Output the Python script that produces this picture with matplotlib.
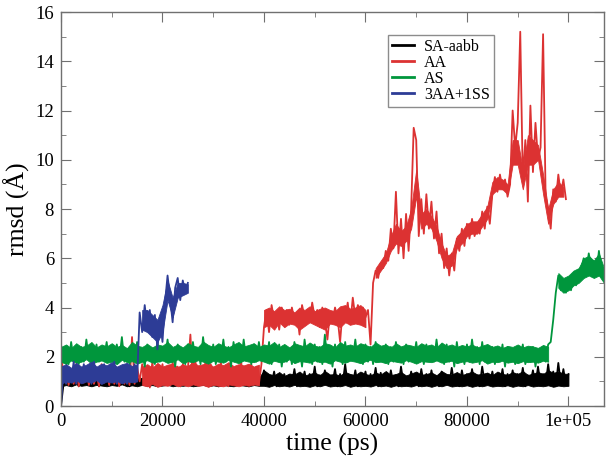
import matplotlib
matplotlib.use('Agg')
import matplotlib.pyplot as plt
from matplotlib.ticker import MultipleLocator
import numpy as np

plt.rcParams['font.family'] = ['Liberation Serif', 'DejaVu Serif']

# rmsd values (angstrom), one sample every 500 ps starting at 0 ps
step = 500

sa_aabb = [
    0.0, 0.9, 1.1, 0.85, 1.2, 0.9, 1.05, 0.8, 1.15, 0.9,
    1.0, 0.85, 1.2, 0.9, 1.1, 0.8, 1.15, 0.95, 1.05, 0.85,
    1.1, 0.9, 1.2, 0.85, 1.0, 0.9, 1.15, 0.8, 1.05, 0.95,
    1.2, 0.85, 1.1, 0.9, 1.0, 0.8, 1.15, 0.9, 1.05, 0.85,
    1.1, 0.9, 1.2, 0.85, 1.0, 0.9, 1.1, 0.8, 1.15, 1.3,
    0.9, 1.4, 1.0, 1.2, 0.85, 1.1, 0.9, 1.0, 0.85, 1.15,
    0.9, 1.1, 0.8, 1.05, 0.9, 1.2, 0.85, 1.0, 0.9, 1.1,
    0.85, 1.15, 0.9, 1.05, 0.8, 1.1, 0.9, 1.2, 0.85, 1.0,
    1.45, 0.85, 1.25, 0.9, 1.4, 0.8, 1.2, 0.95, 1.3, 0.85,
    1.25, 0.9, 1.5, 0.8, 1.2, 0.95, 1.4, 0.85, 1.3, 0.9,
    1.6, 0.8, 1.25, 0.9, 1.45, 0.85, 1.2, 0.95, 1.5, 0.8,
    1.3, 0.9, 1.7, 0.85, 1.25, 0.9, 1.45, 0.8, 1.2, 0.95,
    1.4, 0.85, 1.3, 0.9, 1.55, 0.8, 1.35, 0.95, 1.2, 0.85,
    1.45, 0.9, 1.25, 0.8, 1.6, 0.9, 1.2, 0.85, 1.4, 0.95,
    1.3, 0.8, 1.5, 0.9, 1.3, 0.85, 1.45, 0.9, 1.2, 0.8,
    1.4, 0.95, 1.25, 0.85, 1.55, 0.9, 1.3, 0.8, 1.45, 0.9,
    1.3, 0.85, 1.5, 0.9, 1.25, 0.8, 1.6, 0.95, 1.3, 0.85,
    1.4, 0.9, 1.2, 0.85, 1.5, 0.8, 1.3, 0.9, 1.45, 0.85,
    1.3, 0.9, 1.55, 0.8, 1.25, 0.95, 1.45, 0.85, 1.6, 0.9,
    1.3, 0.85, 1.7, 0.9, 1.4, 0.8, 1.75, 0.9, 1.5, 0.85,
    1.3,
]

aa = [
    2.4, 1.0, 1.6, 0.85, 1.4, 0.9, 1.7, 0.8, 1.3, 0.95,
    1.5, 0.85, 1.6, 0.9, 1.3, 0.8, 1.7, 0.95, 1.4, 0.85,
    1.6, 0.9, 1.3, 0.8, 1.5, 0.9, 1.7, 0.85, 2.8, 0.9,
    1.6, 1.0, 1.7, 0.85, 1.5, 0.75, 1.8, 0.9, 1.6, 0.8,
    1.7, 0.95, 1.5, 0.85, 1.8, 0.9, 1.6, 0.8, 1.7, 1.0,
    1.5, 2.9, 1.0, 1.8, 0.85, 1.6, 0.9, 1.9, 0.8, 1.7,
    1.0, 1.6, 0.85, 1.8, 0.9, 1.5, 0.8, 1.7, 0.95, 1.6,
    0.85, 1.8, 0.9, 1.5, 1.0, 1.7, 0.85, 1.6, 0.9, 1.7,
    3.2, 3.9, 3.0, 4.1, 3.5, 3.8, 3.1, 4.0, 3.6, 3.9,
    3.3, 4.0, 3.5, 3.8, 2.9, 4.1, 3.6, 3.9, 3.4, 4.2,
    3.6, 3.9, 3.2, 4.0, 3.5, 2.7, 3.8, 3.4, 4.0, 3.6,
    2.6, 3.9, 3.5, 4.2, 3.3, 4.4, 3.6, 4.1, 3.8, 4.0,
    3.6, 3.9, 2.5, 5.0, 5.5, 5.2, 5.8, 5.6, 6.3, 5.9,
    7.2, 6.4, 8.7, 6.2, 7.6, 6.0, 7.8, 6.3, 8.0, 11.3,
    10.8, 6.9, 8.4, 7.0, 8.6, 7.2, 8.3, 6.8, 7.9, 6.2,
    7.0, 5.6, 6.4, 5.3, 6.2, 5.5, 6.8, 6.3, 7.2, 6.5,
    7.4, 6.8, 7.6, 6.9, 7.3, 7.0, 7.9, 7.2, 8.1, 7.4,
    8.6, 9.3, 8.7, 9.4, 8.8, 9.2, 8.5, 9.0, 12.0, 10.5,
    11.5, 15.2, 9.2, 10.8, 8.3, 12.2, 9.5, 11.5, 10.0, 10.5,
    15.1, 8.5, 8.0, 7.2, 8.8, 8.3, 9.4, 8.6, 9.2, 8.4,
]

as_ = [
    2.5, 1.8, 2.3, 1.7, 2.6, 1.9, 2.2, 1.7, 2.4, 1.8,
    2.7, 1.9, 2.2, 1.7, 2.5, 1.8, 2.3, 2.0, 2.6, 1.8,
    2.2, 1.7, 2.5, 1.9, 2.8, 1.8, 2.3, 1.7, 2.4, 1.9,
    2.6, 1.8, 2.2, 1.6, 2.5, 1.9, 2.3, 1.7, 2.6, 1.8,
    2.4, 1.9, 2.7, 1.8, 2.3, 1.6, 2.5, 1.9, 2.2, 1.7,
    2.5, 1.8, 2.6, 1.9, 2.3, 1.7, 2.8, 1.9, 2.4, 1.8,
    2.5, 1.7, 2.3, 1.9, 2.7, 1.8, 2.4, 1.6, 2.6, 1.9,
    2.3, 1.8, 2.7, 1.9, 2.4, 1.7, 2.5, 1.8, 2.6, 1.9,
    2.4, 1.8, 2.6, 1.7, 2.3, 1.9, 2.5, 1.6, 2.4, 1.8,
    2.3, 1.7, 2.6, 1.8, 2.4, 1.6, 2.7, 1.9, 2.3, 1.7,
    2.5, 1.8, 2.4, 1.7, 2.9, 1.8, 2.3, 1.6, 2.5, 1.9,
    2.2, 1.7, 2.6, 1.8, 2.4, 1.9, 2.7, 1.8, 2.3, 1.7,
    2.5, 1.8, 2.4, 1.7, 2.6, 1.9, 2.3, 1.8, 2.5, 1.7,
    2.4, 1.8, 2.6, 1.9, 2.3, 1.7, 2.5, 1.8, 2.4, 1.9,
    2.6, 1.8, 2.3, 1.7, 2.5, 1.9, 2.4, 1.8, 2.7, 1.9,
    2.3, 1.7, 2.5, 1.8, 2.4, 1.6, 2.6, 1.9, 2.3, 1.7,
    2.5, 1.8, 2.7, 1.9, 2.4, 1.7, 2.6, 1.8, 2.3, 1.9,
    2.4, 1.7, 2.3, 1.8, 2.5, 1.6, 2.4, 1.8, 2.2, 1.7,
    2.3, 1.8, 2.5, 1.7, 2.2, 1.8, 2.4, 1.6, 2.3, 1.8,
    2.4, 1.8, 2.5, 2.6, 3.5, 4.6, 5.3, 4.7, 5.1, 4.6,
    5.2, 4.7, 5.3, 4.9, 5.5, 5.6, 6.0, 5.4, 6.2, 5.6,
    5.9, 5.3, 6.3, 5.4, 5.1,
]

aa3_ss1 = [
    0.0, 1.6, 0.9, 1.5, 1.0, 1.8, 0.9, 1.4, 1.1, 1.7,
    1.0, 1.5, 0.9, 1.8, 1.1, 1.4, 0.9, 1.7, 1.0, 1.5,
    1.1, 1.8, 0.9, 1.4, 1.0, 1.6, 0.9, 1.5, 1.1, 1.7,
    1.0, 3.8, 3.0, 4.1, 3.2, 3.9, 2.8, 3.7, 2.3, 3.5,
    2.6, 4.2, 5.3, 4.4, 3.4, 4.8, 5.2, 4.3, 5.1, 4.6,
    5.0,
]

# low / high extent of the dense fluctuation, one pair every 1000 ps
env_step = 1000

sa_aabb_lo = [
    0.8, 0.85, 0.8, 0.88, 0.82, 0.85, 0.8, 0.86, 0.83, 0.8,
    0.85, 0.82, 0.88, 0.8, 0.84, 0.8, 0.86, 0.82, 0.85, 0.8,
    0.83, 0.86, 0.8, 0.84, 0.82, 0.85, 0.8, 0.83, 0.86, 0.8,
    0.84, 0.8, 0.85, 0.82, 0.8, 0.86, 0.83, 0.8, 0.85, 0.82,
    0.82, 0.78, 0.85, 0.8, 0.83, 0.79, 0.86, 0.8, 0.82, 0.78,
    0.84, 0.8, 0.86, 0.79, 0.82, 0.8, 0.85, 0.78, 0.83, 0.8,
    0.82, 0.79, 0.85, 0.8, 0.83, 0.78, 0.84, 0.8, 0.82, 0.79,
    0.85, 0.8, 0.83, 0.78, 0.84, 0.8, 0.86, 0.79, 0.82, 0.8,
    0.84, 0.78, 0.83, 0.8, 0.85, 0.79, 0.82, 0.8, 0.84, 0.78,
    0.83, 0.8, 0.85, 0.79, 0.82, 0.8, 0.84, 0.78, 0.83, 0.8,
    0.82,
]
sa_aabb_hi = [
    1.1, 1.15, 1.1, 1.12, 1.18, 1.1, 1.15, 1.12, 1.1, 1.16,
    1.12, 1.1, 1.15, 1.18, 1.1, 1.12, 1.15, 1.1, 1.13, 1.16,
    1.1, 1.14, 1.12, 1.1, 1.2, 1.42, 1.38, 1.15, 1.12, 1.1,
    1.15, 1.12, 1.1, 1.16, 1.12, 1.1, 1.14, 1.12, 1.1, 1.15,
    1.45, 1.3, 1.25, 1.38, 1.22, 1.32, 1.28, 1.4, 1.24, 1.3,
    1.36, 1.25, 1.42, 1.28, 1.3, 1.24, 1.38, 1.3, 1.26, 1.4,
    1.3, 1.25, 1.36, 1.28, 1.42, 1.26, 1.3, 1.38, 1.24, 1.32,
    1.4, 1.27, 1.3, 1.36, 1.25, 1.42, 1.3, 1.28, 1.38, 1.26,
    1.32, 1.4, 1.28, 1.3, 1.36, 1.25, 1.4, 1.3, 1.27, 1.38,
    1.3, 1.42, 1.26, 1.32, 1.38, 1.3, 1.45, 1.35, 1.4, 1.32,
    1.3,
]

aa_lo_a = [0.85, 0.8, 0.9, 0.78, 0.85, 0.82, 0.9, 0.8, 0.86, 0.8, 0.88, 0.82,
           0.85, 0.78, 0.86, 0.82, 0.8, 0.88, 0.84, 0.8, 0.86, 0.82, 0.88, 0.84]
aa_hi_a = [1.6, 1.7, 1.55, 1.75, 1.6, 1.68, 1.72, 1.58, 1.7, 1.62, 1.8, 1.65,
           1.7, 1.75, 1.6, 1.72, 1.66, 1.78, 1.62, 1.7, 1.65, 1.72, 1.6, 1.68]
aa_lo_b = [3.2, 3.3, 3.1, 3.4, 3.2, 3.35, 3.3, 3.1, 3.25, 3.4, 3.3,
           3.2, 3.1, 3.35, 3.3, 3.2, 3.4, 3.3, 3.35, 3.3, 3.2]
aa_hi_b = [3.9, 4.0, 3.85, 4.05, 3.9, 3.95, 3.8, 4.0, 3.9, 4.05, 3.85,
           3.95, 4.0, 3.9, 3.85, 4.05, 4.1, 3.95, 4.0, 4.1, 3.9]
aa_lo_c = [5.2, 5.5, 5.8, 6.3, 6.6, 6.5, 6.7, 7.2, 8.5, 7.2,
           7.4, 7.2, 6.7, 6.0, 5.6, 5.7, 6.4, 6.6, 6.9, 7.0,
           7.0, 7.3, 7.6, 8.6, 8.8, 8.8, 8.6, 9.8, 9.8, 8.8,
           9.8, 9.8, 10.0, 8.6, 7.4, 8.2, 8.5, 8.5]
aa_hi_c = [5.6, 5.9, 6.2, 6.9, 7.4, 7.1, 7.3, 8.0, 9.6, 7.8,
           8.0, 7.7, 7.3, 6.6, 6.1, 6.2, 6.9, 7.1, 7.4, 7.5,
           7.5, 7.8, 8.1, 9.1, 9.3, 9.2, 9.0, 10.8, 10.8, 9.6,
           11.0, 10.8, 10.6, 9.4, 8.0, 8.8, 9.1, 8.9]

as_lo_a = [
    1.8, 1.7, 1.85, 1.75, 1.8, 1.9, 1.72, 1.8, 1.85, 1.75,
    1.8, 1.7, 1.88, 1.78, 1.82, 1.72, 1.8, 1.86, 1.76, 1.8,
    1.85, 1.75, 1.8, 1.9, 1.74, 1.82, 1.78, 1.86, 1.8, 1.72,
    1.84, 1.8, 1.76, 1.88, 1.8, 1.74, 1.85, 1.8, 1.78, 1.86,
    1.8, 1.72, 1.84, 1.78, 1.8, 1.9, 1.74, 1.82, 1.8, 1.76,
    1.85, 1.78, 1.8, 1.72, 1.86, 1.8, 1.76, 1.84, 1.8, 1.74,
    1.82, 1.88, 1.78, 1.8, 1.74, 1.84, 1.8, 1.76, 1.86, 1.8,
    1.72, 1.82, 1.8, 1.78, 1.85, 1.76, 1.8, 1.84, 1.74, 1.8,
    1.82, 1.76, 1.8, 1.86, 1.72, 1.8, 1.78, 1.84, 1.76, 1.8,
    1.74, 1.82, 1.78, 1.8, 1.76, 1.84, 1.8,
]
as_hi_a = [
    2.4, 2.5, 2.35, 2.55, 2.4, 2.45, 2.6, 2.38, 2.5, 2.42,
    2.55, 2.4, 2.48, 2.35, 2.6, 2.45, 2.4, 2.52, 2.38, 2.5,
    2.45, 2.6, 2.4, 2.5, 2.38, 2.55, 2.45, 2.4, 2.62, 2.48,
    2.4, 2.55, 2.45, 2.38, 2.5, 2.6, 2.42, 2.48, 2.55, 2.4,
    2.5, 2.45, 2.6, 2.4, 2.52, 2.38, 2.55, 2.48, 2.42, 2.58,
    2.45, 2.4, 2.55, 2.5, 2.38, 2.6, 2.45, 2.5, 2.42, 2.55,
    2.48, 2.4, 2.58, 2.45, 2.5, 2.38, 2.55, 2.42, 2.5, 2.46,
    2.4, 2.55, 2.45, 2.5, 2.38, 2.58, 2.44, 2.5, 2.4, 2.48,
    2.42, 2.5, 2.38, 2.45, 2.52, 2.4, 2.46, 2.36, 2.44, 2.4,
    2.5, 2.38, 2.45, 2.42, 2.36, 2.48, 2.4,
]
as_lo_b = [4.8, 4.6, 4.7, 4.9, 5.0, 5.2, 5.3, 5.2, 5.3, 5.0]
as_hi_b = [5.4, 5.2, 5.3, 5.5, 5.6, 6.0, 6.1, 5.9, 6.2, 5.6]

aa3_ss1_lo = [0.9, 1.0, 0.95, 1.05, 0.92, 1.0, 0.96, 1.05,
              0.9, 1.0, 0.95, 1.02, 0.92, 1.0, 0.96, 1.0]
aa3_ss1_hi = [1.6, 1.7, 1.55, 1.75, 1.6, 1.68, 1.8, 1.6,
              1.72, 1.65, 1.78, 1.6, 1.7, 1.75, 1.62, 1.7]
aa3_ss1_lo_b = [3.1, 3.0, 2.8, 2.6, 3.0, 4.3, 3.6, 4.4, 4.5, 4.6]
aa3_ss1_hi_b = [3.9, 3.9, 3.7, 3.5, 4.1, 5.1, 4.4, 5.0, 5.0, 4.95]

# (start ps, low list, high list)
sa_aabb_env = [(0, sa_aabb_lo, sa_aabb_hi)]
aa_env = [(16000, aa_lo_a, aa_hi_a), (40000, aa_lo_b, aa_hi_b),
          (62000, aa_lo_c, aa_hi_c)]
as_env = [(0, as_lo_a, as_hi_a), (98000, as_lo_b, as_hi_b)]
aa3_ss1_env = [(0, aa3_ss1_lo, aa3_ss1_hi), (16000, aa3_ss1_lo_b, aa3_ss1_hi_b)]

series = [
    ('SA-aabb', sa_aabb, sa_aabb_env, '#000000'),
    ('AA', aa, aa_env, '#dc3232'),
    ('AS', as_, as_env, '#00963c'),
    ('3AA+1SS', aa3_ss1, aa3_ss1_env, '#2d3c96'),
]

fig = plt.figure(figsize=(6.08, 4.63), dpi=100)
ax = fig.add_axes([0.1003, 0.1231, 0.8931, 0.8509])

z = 2
for name, vals, env, col in series:
    t = np.arange(len(vals)) * step
    for t0, lo, hi in env:
        te = t0 + np.arange(len(lo)) * env_step
        ax.fill_between(te, lo, hi, color=col, lw=0.6, zorder=z)
    ax.plot(t, vals, color=col, lw=1.3, label=name, zorder=z + 0.5)
    z += 1

ax.set_xlim(0, 107000)
ax.set_ylim(0, 16)
ax.set_xticks([0, 20000, 40000, 60000, 80000, 100000],
              ['0', '20000', '40000', '60000', '80000', '1e+05'])
ax.set_yticks(range(0, 17, 2))
ax.xaxis.set_minor_locator(MultipleLocator(10000))
ax.yaxis.set_minor_locator(MultipleLocator(1))
ax.tick_params(which='both', direction='in', top=True, right=True,
               color='#707070', labelsize=13.5, pad=5)
ax.tick_params(which='major', length=7)
ax.tick_params(which='minor', length=3.5)
for s in ax.spines.values():
    s.set_color('#707070')
    s.set_linewidth(1.0)
    s.set_zorder(10)

ax.set_xlabel('time (ps)', fontsize=18.5, labelpad=2)
ax.set_ylabel('rmsd (Å)', fontsize=18.5, labelpad=4)

leg = ax.legend(loc='upper left', bbox_to_anchor=(0.602, 0.942), fontsize=11.5,
                frameon=True, fancybox=False, handlelength=1.4, handletextpad=0.6,
                labelspacing=0.0, borderpad=0.25, borderaxespad=0)
leg.get_frame().set_edgecolor('#707070')
leg.get_frame().set_linewidth(1.0)
leg.set_zorder(20)
for line in leg.get_lines():
    line.set_linewidth(2.0)

fig.savefig('out.png', dpi=100)
